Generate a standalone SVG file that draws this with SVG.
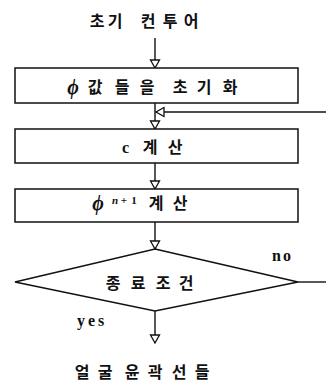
<svg xmlns="http://www.w3.org/2000/svg" width="326" height="382" viewBox="0 0 326 382">
  <style>
    .box { fill: #ffffff; stroke: #111111; stroke-width: 1.5; }
    .link { fill: none; stroke: #111111; stroke-width: 1.4; }
    .ko { font-family: "Noto Sans CJK KR", sans-serif; font-weight: 700; font-size: 16px; fill: #111111; text-anchor: middle; }
    .lat { font-family: "Liberation Serif", serif; font-weight: 700; font-size: 16px; fill: #111111; }
    .phi { font-family: "Liberation Serif", serif; font-style: italic; font-weight: 700; font-size: 20px; fill: #111111; text-anchor: middle; }
    .sup { font-family: "Liberation Serif", serif; font-weight: 700; font-size: 11px; fill: #111111; text-anchor: middle; }
  </style>
  <defs>
    <marker id="head" viewBox="-1 -6 10 12" refX="8" refY="0" markerWidth="10" markerHeight="12" markerUnits="userSpaceOnUse" orient="auto">
      <path d="M0,-4.5 L8,0 L0,4.5 Z" fill="#ffffff" stroke="#111111" stroke-width="1.3"/>
    </marker>
  </defs>

  <rect width="326" height="382" fill="#ffffff"/>

  <!-- start label -->
  <g id="start">
    <text class="ko" x="97 115 148 170 191" y="27">초기컨투어</text>
  </g>

  <!-- connectors -->
  <g id="connectors">
    <line class="link" x1="155" y1="38" x2="155" y2="68" marker-end="url(#head)"/>
    <line class="link" x1="155" y1="103" x2="155" y2="129" marker-end="url(#head)"/>
    <line class="link" x1="326" y1="112" x2="156" y2="112" marker-end="url(#head)"/>
    <line class="link" x1="155" y1="163" x2="155" y2="189" marker-end="url(#head)"/>
    <line class="link" x1="155" y1="222" x2="155" y2="249" marker-end="url(#head)"/>
    <line class="link" x1="155" y1="311" x2="155" y2="343" marker-end="url(#head)"/>
    <line class="link" x1="298" y1="282" x2="326" y2="282"/>
  </g>

  <!-- step 1: initialise phi -->
  <g id="init">
    <rect class="box" x="15" y="68" width="283" height="35"/>
    <text class="phi" x="73" y="94">ϕ</text>
    <text class="ko" x="95 122 147 180 204 230" y="93">값들을초기화</text>
  </g>

  <!-- step 2: compute c -->
  <g id="calc-c">
    <rect class="box" x="15" y="129" width="283" height="34"/>
    <text class="lat" x="122" y="153">c</text>
    <text class="ko" x="150 175" y="153">계산</text>
  </g>

  <!-- step 3: compute phi^(n+1) -->
  <g id="calc-phi">
    <rect class="box" x="15" y="189" width="283" height="33"/>
    <text class="phi" x="98" y="210">ϕ</text>
    <text class="sup" x="115 124 134" y="204"><tspan font-style="italic">n</tspan>+1</text>
    <text class="ko" x="156 180" y="209">계산</text>
  </g>

  <!-- stop condition -->
  <g id="stop">
    <polygon class="box" points="155,249 298,282 155,311 15,282"/>
    <text class="ko" x="113 138 163 186" y="289">종료조건</text>
    <text class="lat" x="272" y="261" letter-spacing="2">no</text>
    <text class="lat" x="77" y="326" letter-spacing="3">yes</text>
  </g>

  <!-- result label -->
  <g id="result">
    <text class="ko" x="82 105 132 155 179 202" y="378">얼굴윤곽선들</text>
  </g>
</svg>
